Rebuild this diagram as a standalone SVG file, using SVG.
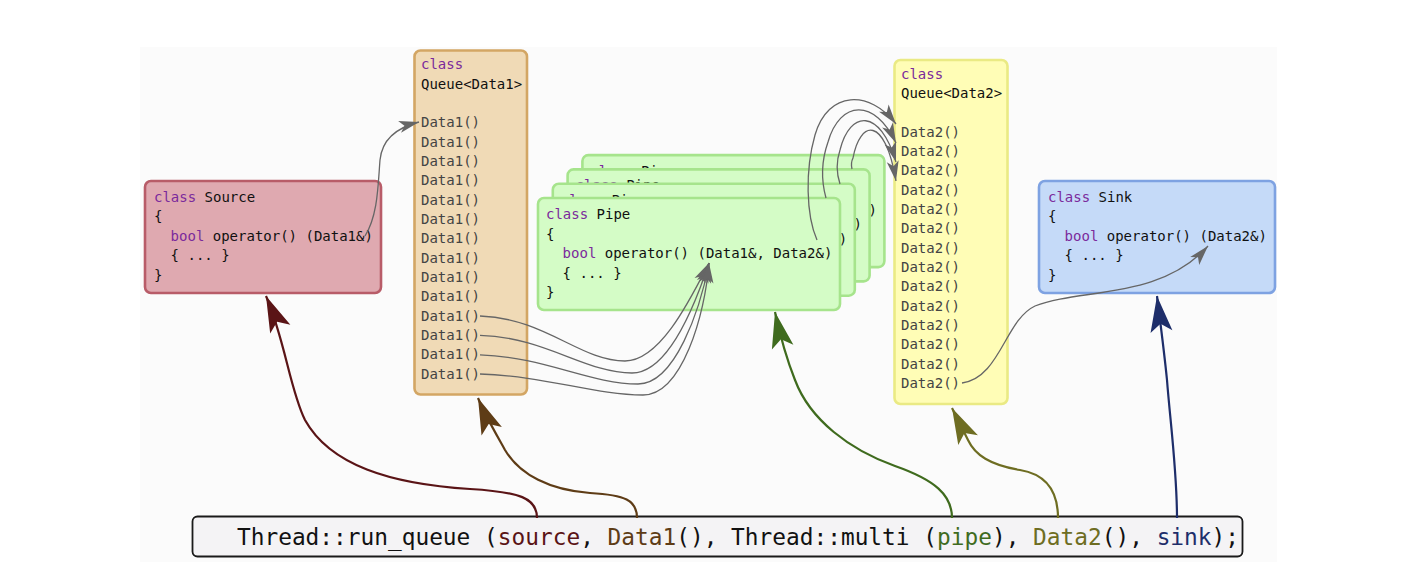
<svg xmlns="http://www.w3.org/2000/svg" width="1422" height="578" viewBox="0 0 1422 578">
  <style>
    .code { font-family: "DejaVu Sans Mono", "Liberation Mono", monospace; font-size: 14px; fill: #111; }
    .row { fill: #444; }
    .kw { fill: #7b2a9c; }
    .box { stroke-width: 2.6; }
    .src { fill: #dfa9b0; stroke: #b85c68; }
    .q1 { fill: #f0dab6; stroke: #d3a664; }
    .pipe { fill: #d4fcc6; stroke: #a6e48c; }
    .q2 { fill: #fffdb6; stroke: #eaea84; }
    .sink { fill: #c5daf8; stroke: #7ea2e2; }
    .flow { fill: none; stroke: #666; stroke-width: 1.3; marker-end: url(#mg); }
    .call { fill: none; stroke-width: 2.2; }
    .bar { font-family: "DejaVu Sans Mono", "Liberation Mono", monospace; font-size: 22.8px; fill: #111; }
  </style>
  <defs>
    <marker id="mg" markerWidth="20" markerHeight="12" refX="20" refY="6" orient="auto" markerUnits="userSpaceOnUse" overflow="visible">
      <path d="M0,0 L20,6 L0,12 L5,6 Z" fill="#666"/>
    </marker>
    <marker id="m-source" markerWidth="36" markerHeight="22" refX="36" refY="11" orient="auto" markerUnits="userSpaceOnUse" overflow="visible">
      <path d="M0,0 L36,11 L0,22 L8,11 Z" fill="#5a1416"/>
    </marker>
    <marker id="m-data1" markerWidth="36" markerHeight="22" refX="36" refY="11" orient="auto" markerUnits="userSpaceOnUse" overflow="visible">
      <path d="M0,0 L36,11 L0,22 L8,11 Z" fill="#5e3c16"/>
    </marker>
    <marker id="m-pipe" markerWidth="36" markerHeight="22" refX="36" refY="11" orient="auto" markerUnits="userSpaceOnUse" overflow="visible">
      <path d="M0,0 L36,11 L0,22 L8,11 Z" fill="#3f6b1e"/>
    </marker>
    <marker id="m-data2" markerWidth="36" markerHeight="22" refX="36" refY="11" orient="auto" markerUnits="userSpaceOnUse" overflow="visible">
      <path d="M0,0 L36,11 L0,22 L8,11 Z" fill="#6e6d22"/>
    </marker>
    <marker id="m-sink" markerWidth="36" markerHeight="22" refX="36" refY="11" orient="auto" markerUnits="userSpaceOnUse" overflow="visible">
      <path d="M0,0 L36,11 L0,22 L8,11 Z" fill="#1e2e6a"/>
    </marker>
  </defs>

  <rect width="1422" height="578" fill="#ffffff"/>
  <rect x="140" y="47" width="1137" height="515" fill="#fbfbfb"/>

  <!-- Source functor -->
  <g id="source">
    <rect class="box src" x="145" y="181" width="236" height="112" rx="6"/>
    <text class="code" x="154" y="201.5"><tspan class="kw">class</tspan> Source</text>
    <text class="code" x="154" y="221">{</text>
    <text class="code" x="170.6" y="240.5"><tspan class="kw">bool</tspan> operator() (Data1&amp;)</text>
    <text class="code" x="170.6" y="260">{ ... }</text>
    <text class="code" x="154" y="279.5">}</text>
  </g>

  <!-- First queue -->
  <g id="queue1">
    <rect class="box q1" x="414.5" y="50.5" width="112.5" height="344" rx="6"/>
    <text class="code kw" x="421" y="69.3">class</text>
    <text class="code" x="421" y="88.7">Queue&lt;Data1&gt;</text>
    <text class="code row" x="421" y="127.3">Data1()</text>
    <text class="code row" x="421" y="146.6">Data1()</text>
    <text class="code row" x="421" y="165.9">Data1()</text>
    <text class="code row" x="421" y="185.3">Data1()</text>
    <text class="code row" x="421" y="204.6">Data1()</text>
    <text class="code row" x="421" y="223.9">Data1()</text>
    <text class="code row" x="421" y="243.3">Data1()</text>
    <text class="code row" x="421" y="262.6">Data1()</text>
    <text class="code row" x="421" y="281.9">Data1()</text>
    <text class="code row" x="421" y="301.3">Data1()</text>
    <text class="code row" x="421" y="320.6">Data1()</text>
    <text class="code row" x="421" y="339.9">Data1()</text>
    <text class="code row" x="421" y="359.3">Data1()</text>
    <text class="code row" x="421" y="378.6">Data1()</text>
  </g>

  <!-- Second queue -->
  <g id="queue2">
    <rect class="box q2" x="894.5" y="60" width="113" height="344" rx="6"/>
    <text class="code kw" x="901" y="79">class</text>
    <text class="code" x="901" y="98.4">Queue&lt;Data2&gt;</text>
    <text class="code row" x="901" y="136.7">Data2()</text>
    <text class="code row" x="901" y="156">Data2()</text>
    <text class="code row" x="901" y="175.3">Data2()</text>
    <text class="code row" x="901" y="194.7">Data2()</text>
    <text class="code row" x="901" y="214">Data2()</text>
    <text class="code row" x="901" y="233.3">Data2()</text>
    <text class="code row" x="901" y="252.7">Data2()</text>
    <text class="code row" x="901" y="272">Data2()</text>
    <text class="code row" x="901" y="291.3">Data2()</text>
    <text class="code row" x="901" y="310.7">Data2()</text>
    <text class="code row" x="901" y="330">Data2()</text>
    <text class="code row" x="901" y="349.3">Data2()</text>
    <text class="code row" x="901" y="368.7">Data2()</text>
    <text class="code row" x="901" y="388">Data2()</text>
  </g>

  <!-- Sink functor -->
  <g id="sink">
    <rect class="box sink" x="1039" y="181" width="236" height="112" rx="6"/>
    <text class="code" x="1048" y="201.5"><tspan class="kw">class</tspan> Sink</text>
    <text class="code" x="1048" y="221">{</text>
    <text class="code" x="1064.6" y="240.5"><tspan class="kw">bool</tspan> operator() (Data2&amp;)</text>
    <text class="code" x="1064.6" y="260">{ ... }</text>
    <text class="code" x="1048" y="279.5">}</text>
  </g>

  <!-- Pipe copies run by Thread::multi, back to front; only the uncovered
       strips of the rear copies carry text -->
  <g id="pipe-3" transform="translate(44.4,-42.9)">
    <rect class="box pipe" x="538" y="198" width="302" height="112" rx="6"/>
    <text class="code" x="546" y="219"><tspan class="kw">class</tspan> Pipe</text>
    <text class="code" x="824" y="258">)</text>
  </g>
  <g id="pipe-2" transform="translate(29.6,-28.6)">
    <rect class="box pipe" x="538" y="198" width="302" height="112" rx="6"/>
    <text class="code" x="546" y="219"><tspan class="kw">class</tspan> Pipe</text>
    <text class="code" x="824" y="258">)</text>
  </g>
  <g id="pipe-1" transform="translate(14.8,-14.3)">
    <rect class="box pipe" x="538" y="198" width="302" height="112" rx="6"/>
    <text class="code" x="546" y="219"><tspan class="kw">class</tspan> Pipe</text>
    <text class="code" x="824" y="258">)</text>
  </g>
  <g id="pipe-0">
    <rect class="box pipe" x="538" y="198" width="302" height="112" rx="6"/>
    <text class="code" x="546" y="219"><tspan class="kw">class</tspan> Pipe</text>
    <text class="code" x="546" y="238.5">{</text>
    <text class="code" x="562.6" y="258"><tspan class="kw">bool</tspan> operator() (Data1&amp;, Data2&amp;)</text>
    <text class="code" x="562.6" y="277.5">{ ... }</text>
    <text class="code" x="546" y="297">}</text>
  </g>

  <!-- Call expression -->
  <g id="call">
    <rect x="192.5" y="516.5" width="1050" height="40" rx="5" fill="#f4f3f5" stroke="#1a1a1a" stroke-width="1.8"/>
    <text class="bar" x="237" y="545">Thread::run_queue (<tspan fill="#5a1416">source</tspan>, <tspan fill="#5e3c16">Data1</tspan>(), Thread::multi (<tspan fill="#3f6b1e">pipe</tspan>), <tspan fill="#6e6d22">Data2</tspan>(), <tspan fill="#1e2e6a">sink</tspan>);</text>
  </g>

  <g id="connectors">
    <!-- data flow -->
    <path class="flow" d="M365,236 C378,215 378,185 380,160 C382,140 395,128 419,122"/>
    <path class="flow" d="M480,316 C545,318 580,361 625,361 C660,361 690,300 709,263"/>
    <path class="flow" d="M480,335.4 C545,337 585,373 632,373 C668,373 695,305 709,263"/>
    <path class="flow" d="M480,354.8 C545,357 590,384 638,384 C675,384 700,310 709,263"/>
    <path class="flow" d="M480,374 C545,376 595,395 643,395 C682,395 705,315 709,263"/>
    <path class="flow" d="M817,240 C806,215 805,170 815,135 C828,90 870,90 896,124"/>
    <path class="flow" d="M826,198 C821,180 821,162 828,142 C840,100 875,98 896,143"/>
    <path class="flow" d="M840,184 C836,172 836,162 840,150 C850,110 880,108 896,162"/>
    <path class="flow" d="M852,169 C851,165 851,162 853,158 C860,120 885,115 896,181"/>
    <path class="flow" d="M962,383 C1000,378 1005,320 1035,306 C1080,288 1160,300 1208,246"/>
    <!-- arguments bound to the objects -->
    <path class="call" stroke="#5a1416" marker-end="url(#m-source)" d="M537,518 C537,498 520,492 470,489 C390,484 330,465 305,420 C290,390 285,340 266,296"/>
    <path class="call" stroke="#5e3c16" marker-end="url(#m-data1)" d="M637,518 C637,500 625,495 590,493 C550,490 520,475 505,450 C495,432 485,415 478,398"/>
    <path class="call" stroke="#3f6b1e" marker-end="url(#m-pipe)" d="M952,518 C952,495 935,480 895,466 C850,450 810,420 795,380 C787,360 780,335 775,312"/>
    <path class="call" stroke="#6e6d22" marker-end="url(#m-data2)" d="M1058,518 C1058,495 1050,475 1020,470 C990,465 975,455 968,440 C962,428 957,418 952,408"/>
    <path class="call" stroke="#1e2e6a" marker-end="url(#m-sink)" d="M1177,518 C1177,470 1170,420 1167,380 C1164,350 1160,320 1157,296"/>
  </g>
</svg>
